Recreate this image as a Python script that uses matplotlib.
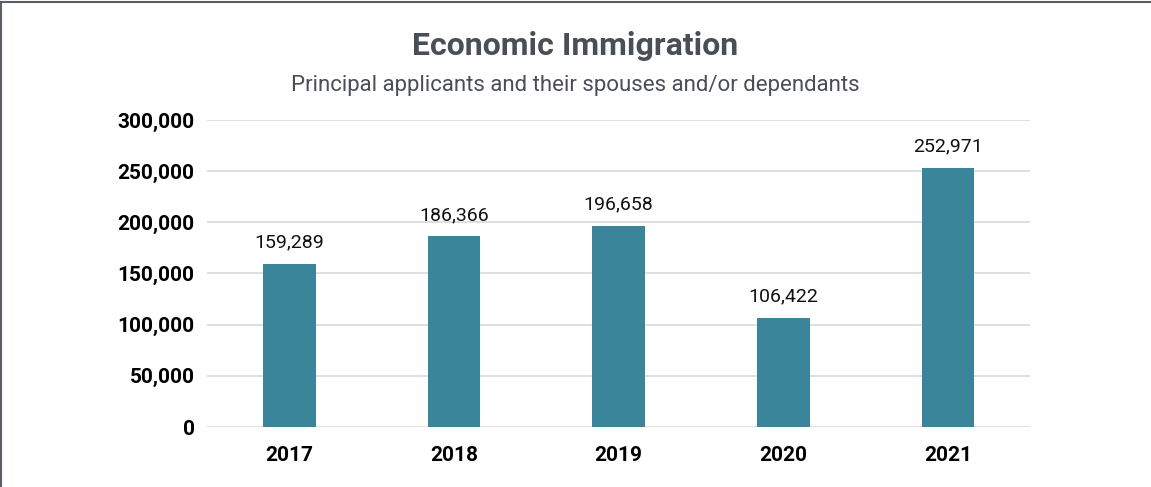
import matplotlib
matplotlib.use('Agg')
import matplotlib.pyplot as plt
from matplotlib.lines import Line2D
from matplotlib.ticker import FuncFormatter

years = ['2017', '2018', '2019', '2020', '2021']
admissions = [159289, 186366, 196658, 106422, 252971]
yticks = [0, 50000, 100000, 150000, 200000, 250000, 300000]

plt.rcParams['font.family'] = ['Roboto', 'DejaVu Sans']

fig = plt.figure(figsize=(11.51, 4.87), dpi=100)
ax = fig.add_axes([0.180, 0.1232, 0.715, 0.6304])

x = range(len(years))
ax.bar(x, admissions, width=0.32, color='#3b859b', zorder=3)
for xi, v in zip(x, admissions):
    ax.text(xi, v + 12000, '{:,}'.format(v), ha='center', va='bottom', fontsize=14, color='#111111')

ax.set_xlim(-0.5, 4.5)
ax.set_ylim(0, 300000)
ax.set_yticks(yticks)
ax.yaxis.set_major_formatter(FuncFormatter(lambda v, p: '{:,}'.format(int(v))))
ax.set_xticks(list(x))
ax.set_xticklabels(years)
ax.grid(axis='y', color='#d9d9d9', linewidth=1.2, zorder=0)
for s in ax.spines.values():
    s.set_visible(False)
ax.tick_params(length=0)
ax.tick_params(axis='y', pad=9, labelsize=15)
ax.tick_params(axis='x', pad=14, labelsize=15)
for lab in ax.get_xticklabels() + ax.get_yticklabels():
    lab.set_fontweight('bold')
    lab.set_color('#000000')

fig.text(0.5, 0.905, 'Economic Immigration', ha='center', va='center', fontsize=23,
         fontweight='bold', color='#4a4f57')
fig.text(0.5, 0.825, 'Principal applicants and their spouses and/or dependants', ha='center',
         va='center', fontsize=16, color='#4a4f57')

# frame lines on the left and top
fig.add_artist(Line2D([0.001, 0.001], [0, 0.996], transform=fig.transFigure, color='#5a5f66', linewidth=1.5))
fig.add_artist(Line2D([0.001, 1], [0.996, 0.996], transform=fig.transFigure, color='#5a5f66', linewidth=1.5))

fig.savefig('out.png', dpi=100)
